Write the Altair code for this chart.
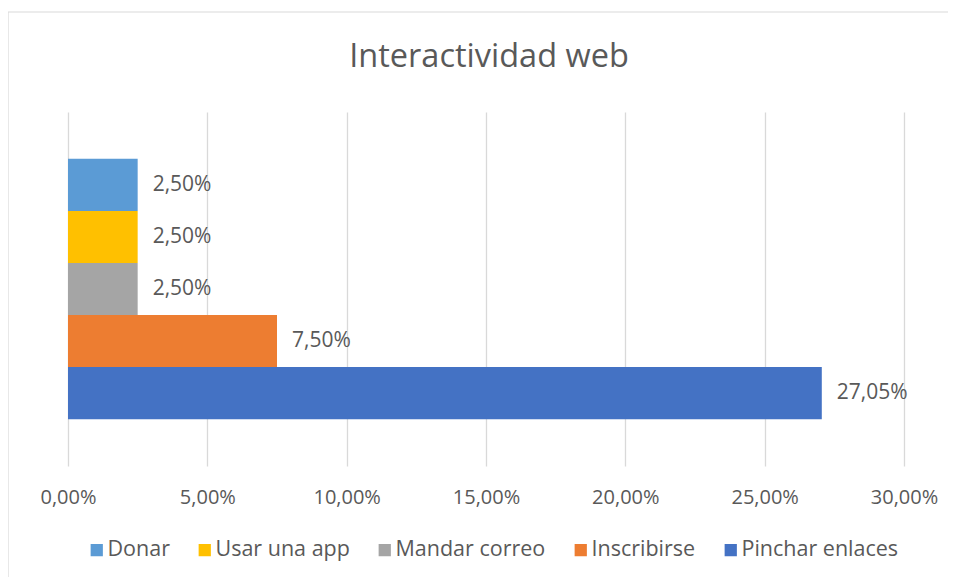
import altair as alt
import pandas as pd

series = ["Donar", "Usar una app", "Mandar correo", "Inscribirse", "Pinchar enlaces"]
values = [0.025, 0.025, 0.025, 0.075, 0.2705]
colors = ["#5B9BD5", "#FFC000", "#A5A5A5", "#ED7D31", "#4472C4"]
x_ticks = [0, 0.05, 0.10, 0.15, 0.20, 0.25, 0.30]
title_text = "Interactividad web"

df = pd.DataFrame({"serie": series, "valor": values})

FONT = "Open Sans"
TXT = "#595959"

base = alt.Chart(df).encode(
    y=alt.Y("serie:N", sort=series, axis=None,
            scale=alt.Scale(paddingInner=0, paddingOuter=0.9)),
)

bars = base.mark_bar().encode(
    x=alt.X("valor:Q",
            scale=alt.Scale(domain=[0, 0.30], nice=False),
            axis=alt.Axis(values=x_ticks, title=None, domain=False, ticks=False,
                          grid=True, gridColor="#D9D9D9", gridWidth=1.3,
                          labelFlush=False,
                          labelExpr="replace(format(datum.value, '.2%'), '.', ',')",
                          labelFont=FONT, labelFontSize=20, labelColor=TXT,
                          labelPadding=21)),
    color=alt.Color("serie:N", sort=series,
                    scale=alt.Scale(domain=series, range=colors),
                    legend=alt.Legend(title=None, orient="none", direction="horizontal",
                                      legendX=18, legendY=427,
                                      symbolType="square", symbolSize=150,
                                      symbolStrokeWidth=0, symbolOpacity=1,
                                      labelFont=FONT, labelFontSize=21.5, labelColor=TXT,
                                      labelOffset=0, columnPadding=24,
                                      labelLimit=300)),
)

labels = base.mark_text(align="left", baseline="middle", dx=15,
                        font=FONT, fontSize=21, color=TXT).transform_calculate(
    lab="replace(format(datum.valor, '.2%'), '.', ',')"
).encode(
    x="valor:Q",
    text="lab:N",
)

title = alt.Chart(pd.DataFrame({"t": [title_text]})).mark_text(
    font=FONT, fontSize=32.5, color=TXT, align="center", baseline="middle"
).encode(text="t:N", x=alt.value(421), y=alt.value(-55))

border = alt.Chart(pd.DataFrame({"k": [0]})).mark_rule(color="#D9D9D9", strokeWidth=1.2).encode(
    x=alt.value(-60), y=alt.value(-100), y2=alt.value(470)
)
border_top = alt.Chart(pd.DataFrame({"k": [0]})).mark_rule(color="#D9D9D9", strokeWidth=1.2).encode(
    x=alt.value(-60), x2=alt.value(880), y=alt.value(-100)
)

chart = alt.layer(border, border_top, bars, labels, title).properties(
    width=836, height=354,
    autosize=alt.AutoSizeParams(type="none"),
    padding={"left": 60, "top": 104, "right": 45, "bottom": 111},
).configure(background="white").configure_view(strokeWidth=0, stroke="transparent")

chart.save("out.html", embed_options={"renderer": "svg", "actions": False})
